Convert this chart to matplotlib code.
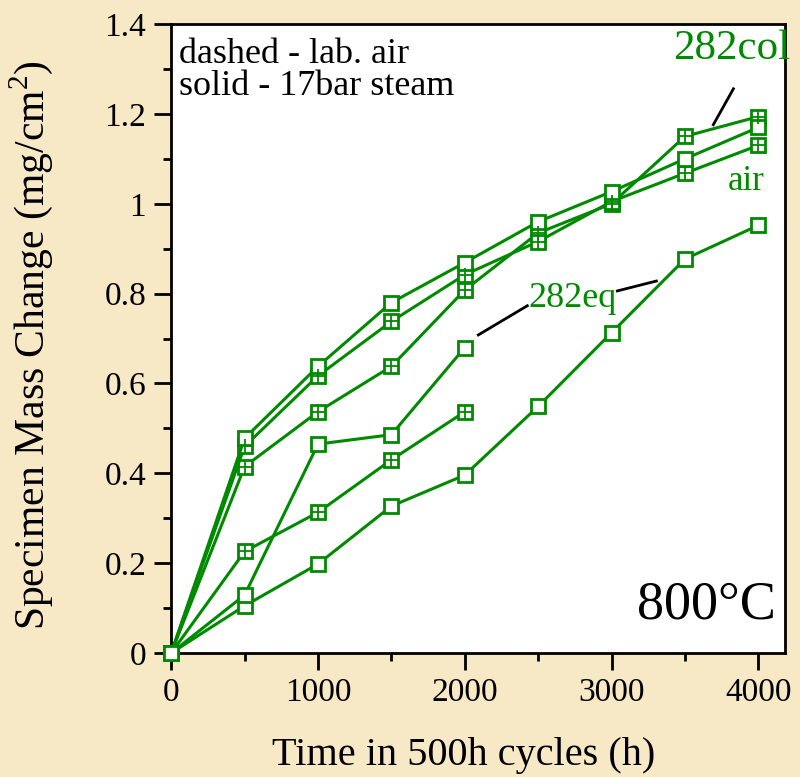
import numpy as np
import matplotlib.pyplot as plt
from matplotlib.ticker import MultipleLocator

plt.rcParams['font.family'] = ['Liberation Serif', 'DejaVu Serif']
plt.rcParams['mathtext.fontset'] = 'custom'
plt.rcParams['mathtext.rm'] = 'Liberation Serif'

# time points (h)
hours = [0, 500, 1000, 1500, 2000, 2500, 3000, 3500, 4000]

# mass change (mg/cm2)
s_open_top = [0, 0.478, 0.638, 0.78, 0.869, 0.96, 1.027, 1.10, 1.17]
s_air = [0, 0.46, 0.617, 0.738, 0.842, 0.916, 1.005, 1.068, 1.13]
s_282col = [0, 0.415, 0.537, 0.638, 0.808, 0.935, 1.0, 1.15, 1.194]
s_open_short = [0, 0.129, 0.465, 0.486, 0.68]
s_grid_short = [0, 0.226, 0.313, 0.43, 0.537]
s_282eq = [0, 0.105, 0.198, 0.327, 0.396, 0.549, 0.713, 0.877, 0.952]

green = '#008a00'
bg = '#f7e8c6'

fig = plt.figure(figsize=(8, 7.77), dpi=100, facecolor=bg)
ax = fig.add_axes([0.214, 0.1596, 0.767, 0.8094])
ax.set_facecolor('white')

def draw(y, grid):
    x = hours[:len(y)]
    ax.plot(x, y, color=green, lw=2.2, marker='s', ms=10, mfc='white',
            mec=green, mew=2.0, zorder=3, clip_on=False)
    if grid:
        ax.plot(x[1:], y[1:], ls='none', marker='+', ms=10, mec=green,
                mew=1.3, zorder=4)

draw(s_282eq, False)
draw(s_grid_short, True)
draw(s_open_short, False)
draw(s_282col, True)
draw(s_air, True)
draw(s_open_top, False)

ax.set_xlim(0, 4180)
ax.set_ylim(0, 1.4)
ax.xaxis.set_major_locator(MultipleLocator(1000))
ax.xaxis.set_minor_locator(MultipleLocator(500))
ax.yaxis.set_minor_locator(MultipleLocator(0.1))
ax.set_yticks([0, 0.2, 0.4, 0.6, 0.8, 1.0, 1.2, 1.4])
ax.set_yticklabels(['0', '0.2', '0.4', '0.6', '0.8', '1', '1.2', '1.4'])
ax.tick_params(which='major', direction='out', length=12, width=2,
               labelsize=24, pad=6)
ax.tick_params(which='minor', direction='out', length=6, width=2)
for sp in ax.spines.values():
    sp.set_linewidth(2)

ax.set_xlabel('Time in 500h cycles (h)', fontsize=29)
ax.xaxis.set_label_coords(0.477, -0.134)
ax.set_ylabel('Specimen Mass Change (mg/cm$^2$)', fontsize=30)
ax.yaxis.set_label_coords(-0.19, 0.49)

ax.text(0.012, 0.978, 'dashed - lab. air\nsolid - 17bar steam', transform=ax.transAxes,
        fontsize=26, va='top', ha='left', linespacing=0.95)
ax.text(0.985, 0.035, '800\u00b0C', transform=ax.transAxes, fontsize=39,
        ha='right', va='bottom')

ax.text(3816, 1.345, '282col', color=green, fontsize=31, ha='center', va='center')
ax.plot([3693, 3830], [1.176, 1.256], color='black', lw=2)
ax.text(3918, 1.05, 'air', color=green, fontsize=25, ha='center', va='center')
ax.text(2733, 0.79, '282eq', color=green, fontsize=26, ha='center', va='center')
ax.plot([2092, 2426], [0.708, 0.773], color='black', lw=2)
ax.plot([3039, 3305], [0.806, 0.828], color='black', lw=2)

fig.savefig('out.png', dpi=100, facecolor=bg)
